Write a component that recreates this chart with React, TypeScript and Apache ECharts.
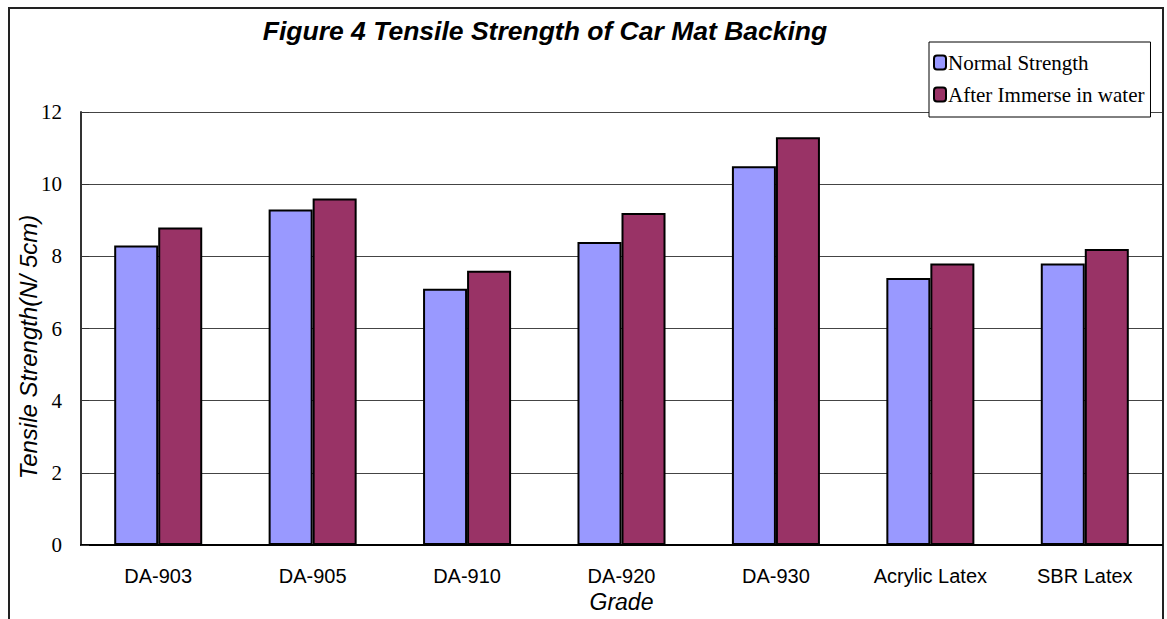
import React, { useEffect, useRef } from "react";
import * as echarts from "echarts";

const categories = ["DA-903", "DA-905", "DA-910", "DA-920", "DA-930", "Acrylic Latex", "SBR Latex"];
const normalStrength = [8.3, 9.3, 7.1, 8.4, 10.5, 7.4, 7.8];
const afterImmerse = [8.8, 9.6, 7.6, 9.2, 11.3, 7.8, 8.2];
const seriesNames = ["Normal Strength", "After Immerse in water"];
const titleText = "Figure 4 Tensile Strength of Car Mat Backing";
const yAxisName = "Tensile Strength(N/ 5cm)";

export default function App() {
  const ref = useRef<HTMLDivElement>(null);
  useEffect(() => {
    if (!ref.current) return;
    const chart = echarts.init(ref.current, null, { renderer: "svg" });
    chart.setOption({
      animation: false,
      backgroundColor: "#ffffff",
      graphic: [
        {
          type: "rect",
          shape: { x: 9, y: 8, width: 1154, height: 700 },
          style: { fill: "none", stroke: "#222", lineWidth: 2 },
          z: 0,
          silent: true,
        },
        {
          type: "text",
          x: 545,
          y: 31,
          style: {
            text: titleText,
            fontFamily: "Arial, 'Liberation Sans'",
            fontSize: 26.5,
            fontWeight: "bold",
            fontStyle: "italic",
            fill: "#000",
            align: "center",
            verticalAlign: "middle",
          },
        },
        {
          type: "text",
          x: 28,
          y: 347,
          rotation: Math.PI / 2,
          style: {
            text: yAxisName,
            fontFamily: "Arial, 'Liberation Sans'",
            fontSize: 24,
            fontStyle: "italic",
            fill: "#000",
            align: "center",
            verticalAlign: "middle",
          },
        },
      ],
      legend: {
        orient: "vertical",
        left: 929,
        top: 42,
        padding: [10, 6, 12, 4],
        itemGap: 11,
        itemWidth: 12,
        itemHeight: 14,
        backgroundColor: "#fff",
        borderColor: "#000",
        borderWidth: 1,
        z: 10,
        textStyle: {
          fontFamily: "'Liberation Serif', 'Times New Roman', serif",
          fontSize: 21,
          color: "#000",
          padding: [0, 0, 0, -3],
        },
        data: seriesNames,
      },
      grid: { left: 81, top: 112, right: 5, bottom: 74, containLabel: false },
      xAxis: {
        type: "category",
        data: categories,
        name: "Grade",
        nameLocation: "middle",
        nameGap: 41,
        nameTextStyle: {
          fontFamily: "Arial, 'Liberation Sans'",
          fontSize: 23,
          fontStyle: "italic",
          color: "#000",
        },
        axisLine: { lineStyle: { color: "#000", width: 2 } },
        axisTick: { inside: true, length: 6, lineStyle: { color: "#000", width: 1 } },
        axisLabel: {
          interval: 0,
          fontFamily: "Arial, 'Liberation Sans'",
          fontSize: 20,
          color: "#000",
          margin: 21,
        },
      },
      yAxis: {
        type: "value",
        min: 0,
        max: 12,
        interval: 2,
        axisLine: { show: true, lineStyle: { color: "#333", width: 2 } },
        axisTick: { show: true, inside: true, length: 8, lineStyle: { color: "#333" } },
        axisLabel: {
          fontFamily: "'Liberation Serif', 'Times New Roman', serif",
          fontSize: 21,
          color: "#000",
          margin: 19,
        },
        splitLine: { show: true, lineStyle: { color: "#444", width: 1 } },
      },
      series: [
        {
          name: seriesNames[0],
          type: "bar",
          data: normalStrength,
          barWidth: "28.5%",
          barGap: "0%",
          itemStyle: { color: "#9999FF", borderColor: "#000", borderWidth: 2 },
        },
        {
          name: seriesNames[1],
          type: "bar",
          data: afterImmerse,
          barWidth: "28.5%",
          barGap: "0%",
          itemStyle: { color: "#993366", borderColor: "#000", borderWidth: 2 },
        },
      ],
    });
    return () => chart.dispose();
  }, []);
  return (
    <div
      ref={ref}
      style={{ position: "absolute", left: 0, top: 0, width: 1167, height: 619 }}
    />
  );
}
